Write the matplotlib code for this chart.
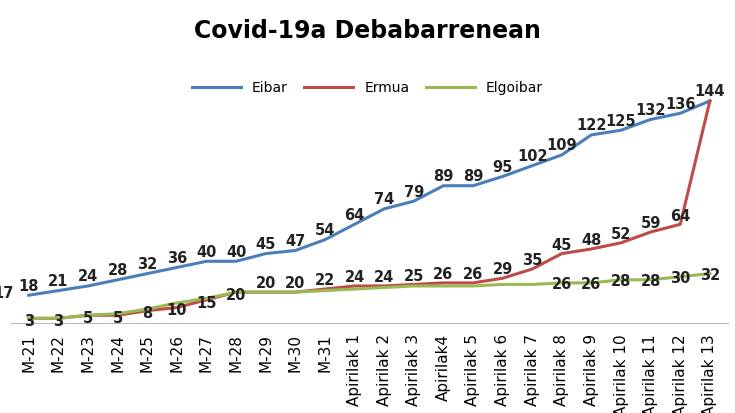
import matplotlib
matplotlib.use("Agg")
import matplotlib.pyplot as plt

categories = [f"M-{d}" for d in range(21, 32)] + [
    "Apirilak 1", "Apirilak 2", "Apirilak 3", "Apirilak4", "Apirilak 5", "Apirilak 6",
    "Apirilak 7", "Apirilak 8", "Apirilak 9", "Apirilak 10", "Apirilak 11", "Apirilak 12", "Apirilak 13"]
eibar = [18, 21, 24, 28, 32, 36, 40, 40, 45, 47, 54, 64, 74, 79, 89, 89, 95, 102, 109, 122, 125, 132, 136, 144]
ermua = [3, 3, 5, 5, 8, 10, 15, 20, 20, 20, 22, 24, 24, 25, 26, 26, 29, 35, 45, 48, 52, 59, 64, 144]
elgoibar = [3, 3, 5, 6, 9, 13, 16, 20, 20, 20, 21, 22, 23, 24, 24, 24, 25, 25, 26, 26, 28, 28, 30, 32]
elgoibar_labelled_from = 18

fig = plt.figure(figsize=(7.35, 4.13), dpi=100)
ax = fig.add_axes([0.015, 0.218, 0.975, 0.56])
x = list(range(len(categories)))
ax.plot(x, eibar, color="#4a7ebb", lw=2.2, label="Eibar")
ax.plot(x, ermua, color="#be4b48", lw=2.2, label="Ermua")
ax.plot(x, elgoibar, color="#98b954", lw=2.2, label="Elgoibar")
lab = dict(ha="center", va="bottom", fontsize=10.5, fontweight="bold", color="#222222")
for i, v in enumerate(eibar):
    ax.text(i, v + 1, str(v), **lab)
for i, v in enumerate(ermua[:-1]):
    ax.text(i, v - 7 if i < 8 else v + 0.5, str(v), **lab)
for i, v in enumerate(elgoibar):
    if i >= elgoibar_labelled_from:
        ax.text(i, v - 6, str(v), **lab)
ax.text(-0.85, eibar[0] - 4, "17", ha="center", va="bottom", fontsize=10.5,
        fontweight="bold", color="#222222")
ax.set_xlim(-0.6, 23.6)
ax.set_ylim(0, 150)
ax.set_xticks(x)
ax.set_xticklabels(categories, rotation=90, fontsize=11)
ax.tick_params(length=0, pad=8)
ax.set_yticks([])
for s in ["top", "right", "left"]:
    ax.spines[s].set_visible(False)
ax.spines["bottom"].set_color("#bbbbbb")
fig.suptitle("Covid-19a Debabarrenean", fontsize=17, fontweight="bold", y=0.955)
fig.legend(loc="upper center", bbox_to_anchor=(0.5, 0.835), ncol=3, frameon=False,
           fontsize=10, handlelength=3.5, columnspacing=1.2)
fig.savefig("out.png", dpi=100)
